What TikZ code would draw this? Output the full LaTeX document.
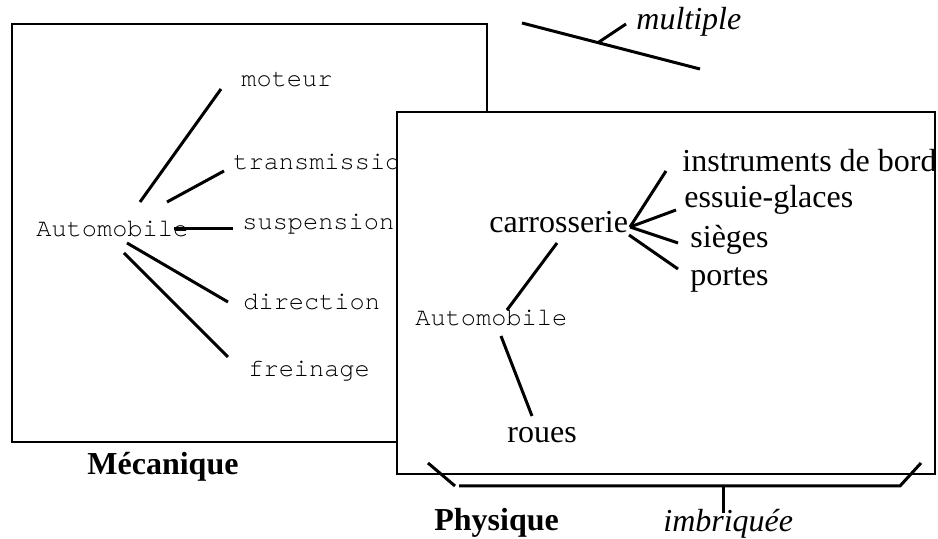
\documentclass[tikz,border=0pt]{standalone}
\usepackage{fontspec}
\setmainfont{Liberation Serif}
\setmonofont{TeX Gyre Cursor}
\usetikzlibrary{calc}
\tikzset{
  frame box/.style={draw, line width=1.4pt},
  branch/.style={line width=1.5pt},
  mono label/.style={
    anchor=base west,
    inner sep=0pt,
    font=\fontsize{12.65}{15}\ttfamily
  },
  serif label/.style={
    anchor=base west,
    inner sep=0pt,
    font=\fontsize{16}{19}\selectfont
  },
  title label/.style={serif label, font=\fontsize{16}{19}\bfseries},
  note label/.style={serif label, font=\fontsize{16}{19}\itshape}
}
\begin{document}
\begin{tikzpicture}[x=0.5pt, y=-0.5pt]
  \useasboundingbox (0,0) rectangle (938,539);

  % Mecanique view
  \draw[frame box] (12,24) rectangle (487,442);
  \node[mono label] (autoMeca) at (36,237) {Automobile};
  \node[mono label] (moteur) at (241,87) {moteur};
  \node[mono label] (transmission) at (233,170) {transmission};
  \node[mono label] (suspension) at (242,230) {suspension};
  \node[mono label] (direction) at (243,310) {direction};
  \node[mono label] (freinage) at (248,377) {freinage};
  \draw[branch] ([shift={(104,-35)}]autoMeca.base west) -- ([shift={(-20,2)}]moteur.base west);
  \draw[branch] ([shift={(131,-35)}]autoMeca.base west) -- ([shift={(-9,1)}]transmission.base west);
  \draw[branch] ([shift={(138,-8)}]autoMeca.base west) -- ([shift={(-9,-1)}]suspension.base west);
  \draw[branch] ([shift={(91,6)}]autoMeca.base west) -- ([shift={(-15,-8)}]direction.base west);
  \draw[branch] ([shift={(88,16)}]autoMeca.base west) -- ([shift={(-20,-20)}]freinage.base west);
  \node[title label] (mecanique) at (87,475) {Mécanique};

  % Physique view
  \filldraw[frame box, fill=white] (397,112) rectangle (935,474);
  \node[mono label] (autoPhys) at (415,326) {Automobile};
  \node[serif label] (carrosserie) at (489,233) {carrosserie};
  \node[serif label] (roues) at (507,443) {roues};
  \node[serif label] (instruments) at (682,172) {instruments de bord};
  \node[serif label] (essuie) at (684,208) {essuie-glaces};
  \node[serif label] (sieges) at (690,248) {sièges};
  \node[serif label] (portes) at (690,286) {portes};
  \draw[branch] ([shift={(92,-16)}]autoPhys.base west) -- ([shift={(68,10)}]carrosserie.base west);
  \draw[branch] ([shift={(86,10)}]autoPhys.base west) -- ([shift={(25,-27)}]roues.base west);
  \draw[branch] ([shift={(141,-6)}]carrosserie.base west) -- ([shift={(-16,-1)}]instruments.base west);
  \draw[branch] ([shift={(141,-6)}]carrosserie.base west) -- ([shift={(-8,2)}]essuie.base west);
  \draw[branch] ([shift={(141,-6)}]carrosserie.base west) -- ([shift={(-12,-5)}]sieges.base west);
  \draw[branch] ([shift={(140,2)}]carrosserie.base west) -- ([shift={(-12,-17)}]portes.base west);
  \node[title label] (physique) at (434,531) {Physique};

  % multiple
  \node[note label] (multiple) at (636,30) {multiple};
  \coordinate (multA) at (522,23);
  \coordinate (multB) at (700,69);
  \draw[branch] (multA) -- (multB);
  \draw[branch] ($(multA)!0.427!(multB)$) -- ([shift={(-10,-6)}]multiple.base west);

  % imbriquee
  \node[note label] (imbriquee) at (663,532) {imbriquée};
  \draw[branch] (428,463) -- (455,486);
  \draw[branch] (459,486) -- (900,486) -- (921,463);
  \draw[branch] (723,486) -- ([shift={(60,-19)}]imbriquee.base west);
\end{tikzpicture}
\end{document}
